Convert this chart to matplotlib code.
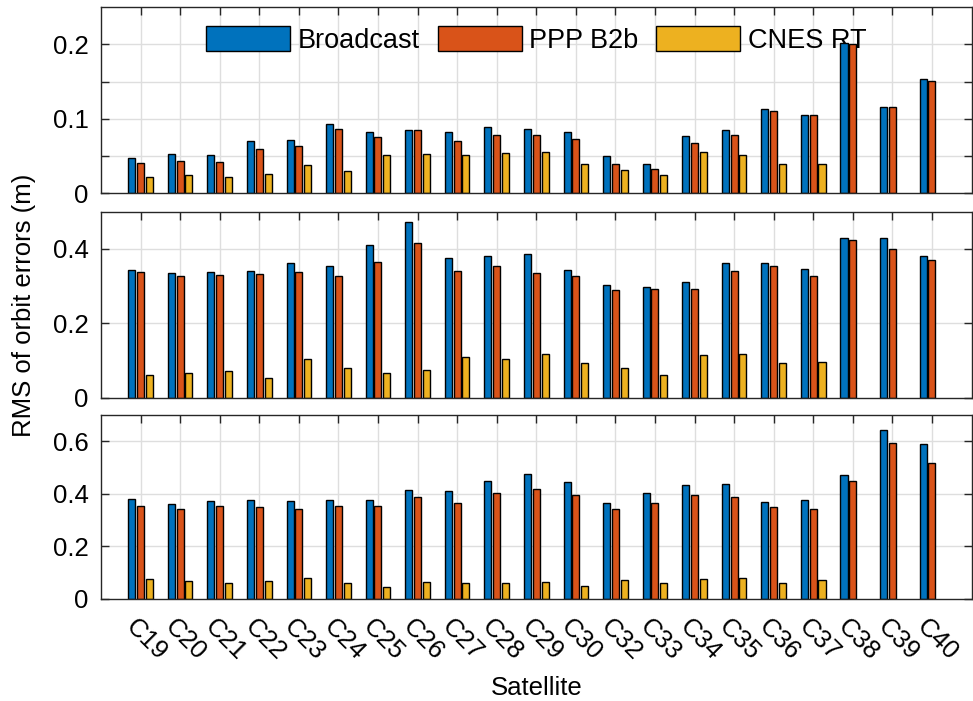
import numpy as np
import matplotlib
matplotlib.use("Agg")
import matplotlib.pyplot as plt
from matplotlib.transforms import ScaledTranslation

plt.rcParams["font.family"] = ["Liberation Sans", "DejaVu Sans"]

sats = ["C19", "C20", "C21", "C22", "C23", "C24", "C25", "C26", "C27", "C28", "C29",
        "C30", "C32", "C33", "C34", "C35", "C36", "C37", "C38", "C39", "C40"]
nan = np.nan

# top panel
bc1 = [0.047, 0.053, 0.052, 0.070, 0.072, 0.093, 0.082, 0.085, 0.082, 0.089, 0.087,
       0.082, 0.050, 0.039, 0.077, 0.085, 0.113, 0.105, 0.202, 0.116, 0.153]
b2b1 = [0.041, 0.043, 0.042, 0.059, 0.064, 0.086, 0.076, 0.085, 0.070, 0.078, 0.079,
        0.073, 0.039, 0.032, 0.068, 0.078, 0.111, 0.105, 0.201, 0.116, 0.151]
cnes1 = [0.022, 0.024, 0.022, 0.026, 0.038, 0.030, 0.051, 0.053, 0.052, 0.054, 0.055,
         0.040, 0.031, 0.024, 0.055, 0.051, 0.039, 0.040, nan, nan, nan]

# middle panel
bc2 = [0.342, 0.335, 0.337, 0.341, 0.361, 0.354, 0.411, 0.471, 0.376, 0.380, 0.386,
       0.344, 0.303, 0.297, 0.311, 0.361, 0.361, 0.346, 0.429, 0.429, 0.380]
b2b2 = [0.338, 0.328, 0.331, 0.333, 0.338, 0.327, 0.364, 0.415, 0.341, 0.354, 0.334,
        0.327, 0.289, 0.291, 0.293, 0.341, 0.354, 0.328, 0.424, 0.400, 0.371]
cnes2 = [0.062, 0.066, 0.071, 0.052, 0.103, 0.079, 0.067, 0.075, 0.109, 0.105, 0.117,
         0.094, 0.079, 0.061, 0.116, 0.117, 0.093, 0.095, nan, nan, nan]

# bottom panel
bc3 = [0.381, 0.363, 0.373, 0.375, 0.371, 0.377, 0.377, 0.415, 0.409, 0.448, 0.477,
       0.447, 0.366, 0.405, 0.434, 0.438, 0.370, 0.376, 0.473, 0.644, 0.589]
b2b3 = [0.352, 0.342, 0.354, 0.351, 0.344, 0.354, 0.352, 0.389, 0.365, 0.403, 0.418,
        0.396, 0.343, 0.366, 0.394, 0.389, 0.349, 0.344, 0.448, 0.592, 0.517]
cnes3 = [0.075, 0.070, 0.060, 0.067, 0.080, 0.060, 0.047, 0.066, 0.062, 0.062, 0.065,
         0.049, 0.071, 0.060, 0.076, 0.079, 0.062, 0.073, nan, nan, nan]

labels = ["Broadcast", "PPP B2b", "CNES RT"]
colors = ["#0072BD", "#D95319", "#EDB120"]

panels = [
    ([bc1, b2b1, cnes1], 0.25, [0, 0.05, 0.1, 0.15, 0.2], ["0", "", "0.1", "", "0.2"]),
    ([bc2, b2b2, cnes2], 0.5, [0, 0.2, 0.4], ["0", "0.2", "0.4"]),
    ([bc3, b2b3, cnes3], 0.7, [0, 0.2, 0.4, 0.6], ["0", "0.2", "0.4", "0.6"]),
]

W, H = 973, 701
fig = plt.figure(figsize=(W / 100, H / 100), dpi=100)
# (top, bottom) pixel rows of each panel
rows = [(7.3, 193.3), (211.7, 397.7), (415.0, 599.0)]
left, right = 101.0, 971.5

x = np.arange(1, len(sats) + 1)
step, bw = 0.222, 0.178
ink = "#262626"
axes = []
for (series, ymax, yt, ytl), (top, bot) in zip(panels, rows):
    ax = fig.add_axes([left / W, 1 - bot / H, (right - left) / W, (bot - top) / H])
    axes.append(ax)
    ax.set_xlim(0, len(sats) + 1)
    ax.set_ylim(0, ymax)
    # light grid under the bars, ticks and box on top
    for xv in x:
        ax.axvline(xv, color="#dedede", lw=1.0, zorder=0.5)
    for yv in yt[1:]:
        ax.axhline(yv, color="#dedede", lw=1.0, zorder=0.5)
    handles = []
    for k, vals in enumerate(series):
        h = ax.bar(x + (k - 1) * step, vals, width=bw, color=colors[k],
                   edgecolor="black", lw=1.0, zorder=2, label=labels[k])
        handles.append(h)
    ax.set_xticks(x)
    ax.set_yticks(yt)
    ax.set_yticklabels(ytl)
    ax.tick_params(direction="in", length=6, width=1.0, color=ink,
                   top=True, right=True, labelsize=18.5, pad=9)
    for s in ax.spines.values():
        s.set_color(ink)
        s.set_linewidth(1.0)
    ax.set_xticklabels([])

ax1 = axes[0]
leg = ax1.legend(handles=handles, labels=labels, loc="center",
                 bbox_to_anchor=(0.5, 0.824), ncol=3, frameon=False,
                 fontsize=19.5, handlelength=3.1, handleheight=1.05,
                 handletextpad=0.28, columnspacing=0.65, borderaxespad=0)
leg.set_zorder(1.5)

ax3 = axes[2]
ax3.set_xticklabels(sats, rotation=-45, ha="left", va="center",
                    rotation_mode="anchor")
shift = ScaledTranslation(-11 / 100, -12 / 100, fig.dpi_scale_trans)
for t in ax3.get_xticklabels():
    t.set_transform(t.get_transform() + shift)

fig.text(24 / W, 1 - 305 / H, "RMS of orbit errors (m)", rotation=90,
         ha="center", va="center", fontsize=18.5)
fig.text((left + right) / 2 / W, 1 - 688 / H, "Satellite",
         ha="center", va="center", fontsize=18.5)

fig.savefig("out.png", dpi=100)
